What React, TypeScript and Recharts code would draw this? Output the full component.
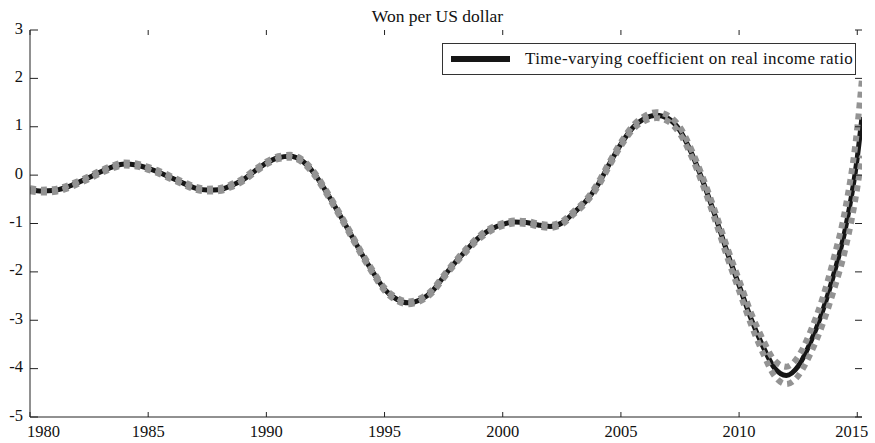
import { LineChart, Line, XAxis, YAxis, Legend } from 'recharts';

// half-year grid, last point is the end of the sample
const years = [
  1980, 1980.5, 1981, 1981.5, 1982, 1982.5, 1983, 1983.5, 1984, 1984.5,
  1985, 1985.5, 1986, 1986.5, 1987, 1987.5, 1988, 1988.5, 1989, 1989.5,
  1990, 1990.5, 1991, 1991.5, 1992, 1992.5, 1993, 1993.5, 1994, 1994.5,
  1995, 1995.5, 1996, 1996.5, 1997, 1997.5, 1998, 1998.5, 1999, 1999.5,
  2000, 2000.5, 2001, 2001.5, 2002, 2002.5, 2003, 2003.5, 2004, 2004.5,
  2005, 2005.5, 2006, 2006.5, 2007, 2007.5, 2008, 2008.5, 2009, 2009.5,
  2010, 2010.5, 2011, 2011.5, 2012, 2012.5, 2013, 2013.5, 2014, 2014.5,
  2015, 2015.2,
];

// time-varying coefficient on real income ratio
const coef = [
  -0.30, -0.33, -0.32, -0.26, -0.16, -0.05, 0.07, 0.17, 0.23, 0.21,
  0.14, 0.05, -0.06, -0.17, -0.27, -0.31, -0.30, -0.22, -0.10, 0.08,
  0.25, 0.36, 0.39, 0.30, 0.05, -0.32, -0.73, -1.16, -1.60, -2.00,
  -2.36, -2.56, -2.64, -2.58, -2.41, -2.10, -1.80, -1.53, -1.29, -1.12,
  -1.02, -0.97, -0.98, -1.03, -1.06, -0.99, -0.78, -0.55, -0.22, 0.22,
  0.64, 0.98, 1.17, 1.24, 1.17, 0.92, 0.44, -0.17, -0.86, -1.60,
  -2.28, -2.96, -3.53, -3.99, -4.14, -3.95, -3.48, -2.86, -2.06, -1.10,
  0.36, 1.20,
];

// upper / lower bands (gray dotted)
const upperBand = [
  -0.27, -0.30, -0.29, -0.23, -0.13, -0.02, 0.10, 0.20, 0.26, 0.24,
  0.17, 0.08, -0.03, -0.14, -0.24, -0.28, -0.27, -0.19, -0.07, 0.11,
  0.28, 0.39, 0.42, 0.33, 0.08, -0.29, -0.70, -1.13, -1.57, -1.97,
  -2.33, -2.53, -2.61, -2.55, -2.38, -2.07, -1.77, -1.50, -1.26, -1.09,
  -0.99, -0.94, -0.95, -1.00, -1.03, -0.96, -0.75, -0.52, -0.18, 0.26,
  0.68, 1.02, 1.22, 1.30, 1.23, 0.99, 0.51, -0.09, -0.77, -1.50,
  -2.17, -2.84, -3.39, -3.83, -3.96, -3.75, -3.25, -2.59, -1.73, -0.68,
  0.98, 2.00,
];

const lowerBand = [
  -0.33, -0.36, -0.35, -0.29, -0.19, -0.08, 0.04, 0.14, 0.20, 0.18,
  0.11, 0.02, -0.09, -0.20, -0.30, -0.34, -0.33, -0.25, -0.13, 0.05,
  0.22, 0.33, 0.36, 0.27, 0.02, -0.35, -0.76, -1.19, -1.63, -2.03,
  -2.39, -2.59, -2.67, -2.61, -2.44, -2.13, -1.83, -1.56, -1.32, -1.15,
  -1.05, -1.00, -1.01, -1.06, -1.09, -1.02, -0.81, -0.58, -0.26, 0.18,
  0.60, 0.94, 1.12, 1.18, 1.11, 0.85, 0.37, -0.25, -0.95, -1.70,
  -2.39, -3.08, -3.67, -4.15, -4.32, -4.15, -3.71, -3.13, -2.39, -1.52,
  -0.26, 0.40,
];

const xTicks = [1980, 1985, 1990, 1995, 2000, 2005, 2010, 2015];
const yTicks = [-5, -4, -3, -2, -1, 0, 1, 2, 3];

const data = years.map((t, i) => ({ t, coef: coef[i], upper: upperBand[i], lower: lowerBand[i] }));

const W = 875;
const H = 443;
const LEFT = 30;
const RIGHT = 862;
const TOP = 30;
const BOTTOM = 417;
const FONT = '"Liberation Serif", "Times New Roman", serif';
const AXIS = '#222';

const XTick = ({ x, payload }: any) => {
  const v = payload.value;
  let tx = x;
  let anchor: any = 'middle';
  if (v === 1980) { tx = x - 3; anchor = 'start'; }
  if (v === 2015) { tx = x + 11; anchor = 'end'; }
  return (
    <g>
      <line x1={x} x2={x} y1={BOTTOM} y2={BOTTOM - 5} stroke={AXIS} />
      <line x1={x} x2={x} y1={TOP} y2={TOP + 5} stroke={AXIS} />
      <text x={tx} y={437} textAnchor={anchor} fontSize={16.5} fontFamily={FONT} fill="#111">{v}</text>
    </g>
  );
};

const YTick = ({ y, payload }: any) => (
  <g>
    <line x1={LEFT} x2={LEFT + 8} y1={y} y2={y} stroke={AXIS} />
    <line x1={RIGHT - 7} x2={RIGHT} y1={y} y2={y} stroke={AXIS} />
    <text x={23} y={y + 3.5} textAnchor="end" fontSize={16.5} fontFamily={FONT} fill="#111">{payload.value}</text>
  </g>
);

const LegendBox = () => (
  <div
    style={{
      boxSizing: 'border-box',
      width: 414,
      height: 32,
      border: '1px solid #333',
      background: '#fff',
      display: 'flex',
      alignItems: 'center',
    }}
  >
    <svg width={60} height={10} style={{ marginLeft: 8 }}>
      <line x1={0} x2={59} y1={5} y2={5} stroke="#161616" strokeWidth={6} />
    </svg>
    <span
      style={{
        marginLeft: 14,
        fontFamily: FONT,
        fontSize: 17,
        letterSpacing: 0.4,
        color: '#111',
        whiteSpace: 'nowrap',
      }}
    >
      Time-varying coefficient on real income ratio
    </span>
  </div>
);

export default function App() {
  return (
    <div style={{ position: 'absolute', left: 0, top: 0, width: W, height: H, background: '#fff' }}>
      <div
        style={{
          position: 'absolute',
          left: 0,
          top: 5,
          width: W,
          textAlign: 'center',
          fontFamily: FONT,
          fontSize: 17.5,
          lineHeight: '22px',
          color: '#111',
        }}
      >
        Won per US dollar
      </div>
      <LineChart width={W} height={H} data={data} margin={{ top: TOP, right: W - RIGHT, left: 0, bottom: 0 }}>
        <XAxis
          dataKey="t"
          type="number"
          domain={[1980, 2015.2]}
          ticks={xTicks}
          allowDataOverflow
          height={H - BOTTOM}
          tickLine={false}
          axisLine={{ stroke: AXIS }}
          tick={<XTick />}
        />
        <XAxis
          xAxisId="top"
          orientation="top"
          dataKey="t"
          type="number"
          domain={[1980, 2015.2]}
          height={0}
          tick={false}
          tickLine={false}
          axisLine={{ stroke: AXIS }}
        />
        <YAxis
          type="number"
          domain={[-5, 3]}
          ticks={yTicks}
          width={LEFT}
          tickLine={false}
          axisLine={{ stroke: AXIS }}
          tick={<YTick />}
        />
        <YAxis
          yAxisId="right"
          orientation="right"
          type="number"
          domain={[-5, 3]}
          width={0}
          tick={false}
          tickLine={false}
          axisLine={{ stroke: AXIS }}
        />
        <Line
          dataKey="coef"
          type="monotone"
          stroke="#161616"
          strokeWidth={5}
          dot={false}
          isAnimationActive={false}
        />
        <Line
          dataKey="upper"
          type="monotone"
          stroke="#939393"
          strokeWidth={6}
          strokeDasharray="6 5"
          dot={false}
          legendType="none"
          isAnimationActive={false}
        />
        <Line
          dataKey="lower"
          type="monotone"
          stroke="#939393"
          strokeWidth={6}
          strokeDasharray="6 5"
          dot={false}
          legendType="none"
          isAnimationActive={false}
        />
        <Legend
          layout="horizontal"
          verticalAlign="middle"
          align="center"
          wrapperStyle={{ top: 43, left: 442, width: 414, height: 32 }}
          content={() => <LegendBox />}
        />
      </LineChart>
    </div>
  );
}
